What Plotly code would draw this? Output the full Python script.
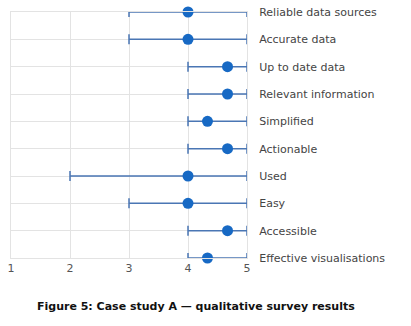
import plotly.graph_objects as go

categories = ["Reliable data sources", "Accurate data", "Up to date data", "Relevant information",
              "Simplified", "Actionable", "Used", "Easy", "Accessible", "Effective visualisations"]
means = [4.0, 4.0, 4.67, 4.67, 4.33, 4.67, 4.0, 4.0, 4.67, 4.33]
mins = [3, 3, 4, 4, 4, 4, 2, 3, 4, 4]
maxs = [5, 5, 5, 5, 5, 5, 5, 5, 5, 5]
x_ticks = [1, 2, 3, 4, 5]

pos = list(range(len(categories)))
plus = [mx - m for mx, m in zip(maxs, means)]
minus = [m - mn for mn, m in zip(mins, means)]

W, H = 411, 326
L, T = 11, 12
plot_w, plot_h = 236, 246
R = W - L - plot_w
B = H - T - plot_h
GRID = "#e3e3e3"
FONT = "DejaVu Sans, Verdana, sans-serif"

fig = go.Figure(go.Scatter(
    x=means, y=pos, mode="markers",
    marker=dict(color="#1769c4", size=11),
    error_x=dict(type="data", symmetric=False, array=plus, arrayminus=minus,
                 color="#4a76b4", thickness=1.5, width=5),
    showlegend=False, cliponaxis=False,
))

fig.update_layout(
    width=W, height=H,
    margin=dict(l=L, r=R, t=T, b=B, autoexpand=False),
    paper_bgcolor="white", plot_bgcolor="white",
    font=dict(family=FONT, size=11, color="#444"),
    xaxis=dict(range=[1, 5], tickvals=x_ticks, showgrid=True, gridcolor=GRID, gridwidth=1,
               zeroline=False, showline=True, linecolor=GRID, linewidth=1, mirror=True,
               tickfont=dict(size=11, color="#555"), ticks="",
               automargin=False, ticklabeloverflow="allow"),
    yaxis=dict(range=[len(categories) - 1, 0], tickvals=pos, ticktext=categories, side="right",
               showgrid=True, gridcolor=GRID, zeroline=False, showline=True, linecolor=GRID,
               linewidth=1, mirror=True,
               ticks="", ticklabelstandoff=9, tickfont=dict(size=11, color="#444"),
               automargin=False, ticklabeloverflow="allow"),
    annotations=[dict(text="<b>Figure 5: Case study A — qualitative survey results</b>",
                      x=(196 - L) / plot_w, xref="paper", y=(T + plot_h - 306) / plot_h, yref="paper",
                      xanchor="center", yanchor="middle", showarrow=False,
                      font=dict(family=FONT, size=11, color="#111"))],
)

fig.write_html("out.html", config={"displayModeBar": False},
               post_script="document.body.style.margin='0';")
